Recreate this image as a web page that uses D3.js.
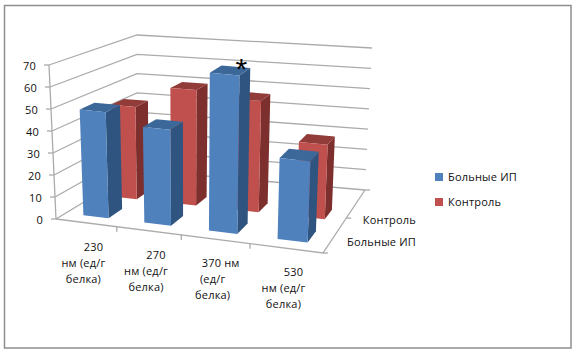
<!DOCTYPE html>
<html>
<head>
<meta charset="utf-8">
<script src="https://d3js.org/d3.v7.min.js"></script>
<style>
  html, body { margin: 0; padding: 0; background: #fff; }
  text { font-family: "Open Sans", sans-serif; font-size: 11px; letter-spacing: 0.2px; fill: #111; }
</style>
</head>
<body>
<div id="chart"></div>
<script>
const categories = ["230 нм (ед/г белка)", "270 нм (ед/г белка)", "370 нм (ед/г белка)", "530 нм (ед/г белка)"];
const categoryLines = [
  ["230", "нм (ед/г", "белка)"],
  ["270", "нм (ед/г", "белка)"],
  ["370 нм", "(ед/г", "белка)"],
  ["530", "нм (ед/г", "белка)"]
];
const seriesNames = ["Больные ИП", "Контроль"];
const patients = [48.5, 43.5, 71, 36];
const control = [44, 54.5, 52, 34.5];
const yTicks = [0, 10, 20, 30, 40, 50, 60, 70];

const width = 576;
const height = 353;

const svg = d3.select("#chart").append("svg")
  .attr("width", width)
  .attr("height", height);

// floor corners of the 3d box
const floor = { fl: [56, 219], fr: [323, 253], br: [365, 190], bl: [137, 170] };
// how far a full 0-70 column rises at each floor corner
const rise = { fl: [-7, -154], fr: [6, -160], br: [7, -142], bl: [0, -135] };

// unit square -> floor quad
function makeHomography(q) {
  const [x0, y0] = q.fl, [x1, y1] = q.fr, [x2, y2] = q.br, [x3, y3] = q.bl;
  const dx1 = x1 - x2, dx2 = x3 - x2, sx = x0 - x1 + x2 - x3;
  const dy1 = y1 - y2, dy2 = y3 - y2, sy = y0 - y1 + y2 - y3;
  const det = dx1 * dy2 - dx2 * dy1;
  const g = (sx * dy2 - dx2 * sy) / det;
  const h = (dx1 * sy - sx * dy1) / det;
  const a = x1 - x0 + g * x1, b = x3 - x0 + h * x3;
  const d = y1 - y0 + g * y1, e = y3 - y0 + h * y3;
  return (u, v) => {
    const w = g * u + h * v + 1;
    return [(a * u + b * v + x0) / w, (d * u + e * v + y0) / w];
  };
}
const floorAt = makeHomography(floor);

const xScale = d3.scaleBand().domain(categories).range([0.002, 1.002]).paddingInner(0.58).paddingOuter(0.29);
const depthScale = d3.scaleBand().domain(seriesNames).range([0, 1]).paddingInner(0.536).paddingOuter(0.718).align(0.21);
const yScale = d3.scaleLinear().domain([0, 70]).range([0, 1]);

// u across, v into the picture, w up
function project(u, v, w) {
  // the reference is a little less foreshortened across than the corners alone give
  const uw = u + 0.05 * u * (1 - u);
  const p = floorAt(uw, v);
  const lerp = i => (1 - v) * ((1 - u) * rise.fl[i] + u * rise.fr[i]) + v * ((1 - u) * rise.bl[i] + u * rise.br[i]);
  return [p[0] + lerp(0) * w, p[1] + lerp(1) * w];
}

const outline = d3.line().curve(d3.curveLinearClosed);
const polyline = d3.line();

// picture frame
svg.append("rect")
  .attr("x", 4.5).attr("y", 5.5)
  .attr("width", 566.5).attr("height", 342.5)
  .attr("fill", "#fff").attr("stroke", "#8e8e8e").attr("stroke-width", 1.5);

// gridlines on side wall and back wall
const grid = svg.append("g").attr("fill", "none").attr("stroke", "#ababab").attr("stroke-width", 1.3);
yTicks.forEach(t => {
  grid.append("path").attr("d", polyline([project(0, 0, yScale(t)), project(0, 1, yScale(t)), project(1, 1, yScale(t))]));
});
// axes
grid.append("path").attr("d", polyline([project(0, 0, 0), project(0, 0, 1)]));
grid.append("path").attr("d", polyline([project(0, 0, 0), project(1, 0, 0), project(1, 1, 0)]));

yTicks.forEach(t => {
  const p = project(0, 0, yScale(t));
  grid.append("path").attr("d", polyline([[p[0] - 5, p[1]], p]));
  svg.append("text")
    .attr("x", p[0] - 13)
    .attr("y", p[1] + 5)
    .attr("text-anchor", "end")
    .text(t);
});

// category ticks and labels
categories.forEach((c, i) => {
  if (i > 0) {
    const p = project(i / categories.length, 0, 0);
    grid.append("path").attr("d", polyline([p, [p[0], p[1] + 5]]));
  }
  const p = project(xScale(c) + xScale.bandwidth() / 2, 0, 0);
  categoryLines[i].forEach((line, j) => {
    svg.append("text")
      .attr("x", p[0] + (j === 0 ? (line.length > 3 ? 8 : 10) : 0) - 3)
      .attr("y", p[1] + 28 + j * 16)
      .attr("text-anchor", "middle")
      .text(line);
  });
});

// depth ticks and labels
[0, 0.5, 1].forEach(v => {
  const p = project(1, v, 0);
  grid.append("path").attr("d", polyline([p, [p[0] + 5, p[1]]]));
});
seriesNames.forEach((s, i) => {
  svg.append("text")
    .attr("x", 416)
    .attr("y", i === 0 ? 246 : 224)
    .attr("text-anchor", "end")
    .text(s);
});

const seriesColors = [
  { front: "#4f81bd", side: "#2f5480", top: "#3b6899" },
  { front: "#c0504d", side: "#7d2f2d", top: "#923c3a" }
];

function drawBar(cat, s, value, colors) {
  const u0 = xScale(cat), u1 = u0 + xScale.bandwidth();
  const v0 = depthScale(s), v1 = v0 + depthScale.bandwidth();
  const w = yScale(value);
  const g = svg.append("g");
  g.append("path").attr("fill", colors.side)
    .attr("d", outline([project(u1, v0, 0), project(u1, v1, 0), project(u1, v1, w), project(u1, v0, w)]));
  g.append("path").attr("fill", colors.top)
    .attr("d", outline([project(u0, v0, w), project(u1, v0, w), project(u1, v1, w), project(u0, v1, w)]));
  g.append("path").attr("fill", colors.front)
    .attr("d", outline([project(u0, v0, 0), project(u1, v0, 0), project(u1, v0, w), project(u0, v0, w)]));
}

// back row first
categories.forEach((c, i) => drawBar(c, seriesNames[1], control[i], seriesColors[1]));
categories.forEach((c, i) => drawBar(c, seriesNames[0], patients[i], seriesColors[0]));

// significance mark over the 370 nm bar
const star = project(xScale(categories[2]) + xScale.bandwidth() / 2, depthScale(seriesNames[0]), yScale(patients[2]));
svg.append("text")
  .attr("x", star[0] + 17)
  .attr("y", star[1] + 5)
  .attr("text-anchor", "middle")
  .style("font-size", "30px")
  .style("font-family", "'Liberation Sans', sans-serif")
  .style("fill", "#000")
  .text("*");

// legend
seriesNames.forEach((s, i) => {
  const y = 173 + i * 25;
  svg.append("rect").attr("x", 435).attr("y", y).attr("width", 8).attr("height", 8)
    .attr("fill", seriesColors[i].front);
  svg.append("text").attr("x", 448).attr("y", y + 8).text(s);
});
</script>
</body>
</html>
